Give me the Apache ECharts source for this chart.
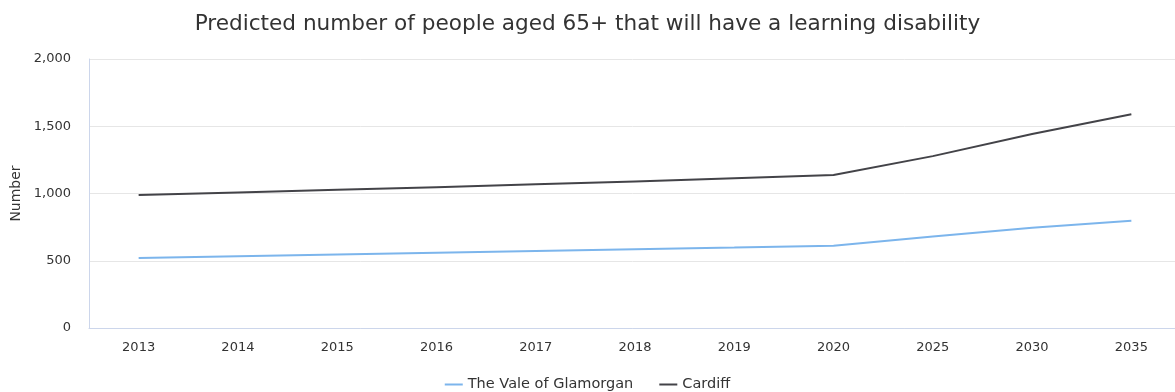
<!DOCTYPE html>
<html><head><meta charset="utf-8">
<script src="https://cdn.jsdelivr.net/npm/echarts@6/dist/echarts.min.js"></script>
<style>html,body{margin:0;padding:0;background:#fff}#c{width:1175px;height:392px}</style>
</head><body><div id="c"></div>
<script>
const categories = ['2013','2014','2015','2016','2017','2018','2019','2020','2025','2030','2035'];
const valeOfGlamorgan = [520, 533, 546, 559, 572, 585, 598, 612, 680, 746, 798];
const cardiff = [989, 1008, 1027, 1047, 1068, 1090, 1113, 1137, 1278, 1443, 1589];
const chart = echarts.init(document.getElementById('c'));
const font = 'DejaVu Sans';
chart.setOption({
  animation: false,
  title: {text: 'Predicted number of people aged 65+ that will have a learning disability', left: 'center', top: 8,
    textStyle: {fontFamily: font, fontSize: 21.6, fontWeight: 'normal', color: '#333'}},
  legend: {top: 372, left: 'center', itemWidth: 18, itemHeight: 2, itemGap: 26, icon: 'rect',
    textStyle: {fontFamily: font, fontSize: 14.5, color: '#333'},
    data: ['The Vale of Glamorgan', 'Cardiff']},
  grid: {left: 89, width: 1092, top: 59, bottom: 64, containLabel: false, outerBoundsMode: 'none'},
  xAxis: {type: 'category', data: categories, boundaryGap: true,
    axisLine: {lineStyle: {color: '#ccd6eb'}}, axisTick: {alignWithLabel: true, lineStyle: {color: '#ccd6eb'}, length: 8},
    axisLabel: {fontFamily: font, fontSize: 13, color: '#333', margin: 13}},
  yAxis: {type: 'value', min: 0, max: 2000, interval: 500, name: 'Number', nameLocation: 'middle', nameGap: 66,
    nameTextStyle: {fontFamily: font, fontSize: 14, color: '#333'},
    axisLine: {show: true, lineStyle: {color: '#ccd6eb'}},
    splitLine: {lineStyle: {color: '#e6e6e6'}},
    axisLabel: {fontFamily: font, fontSize: 13, color: '#333', margin: 18,
      formatter: v => v.toLocaleString('en-US')}},
  series: [
    {name: 'The Vale of Glamorgan', type: 'line', data: valeOfGlamorgan, symbol: 'none', color: '#7cb5ec', lineStyle: {width: 2}},
    {name: 'Cardiff', type: 'line', data: cardiff, symbol: 'none', color: '#434348', lineStyle: {width: 2}}
  ]
});
</script></body></html>
